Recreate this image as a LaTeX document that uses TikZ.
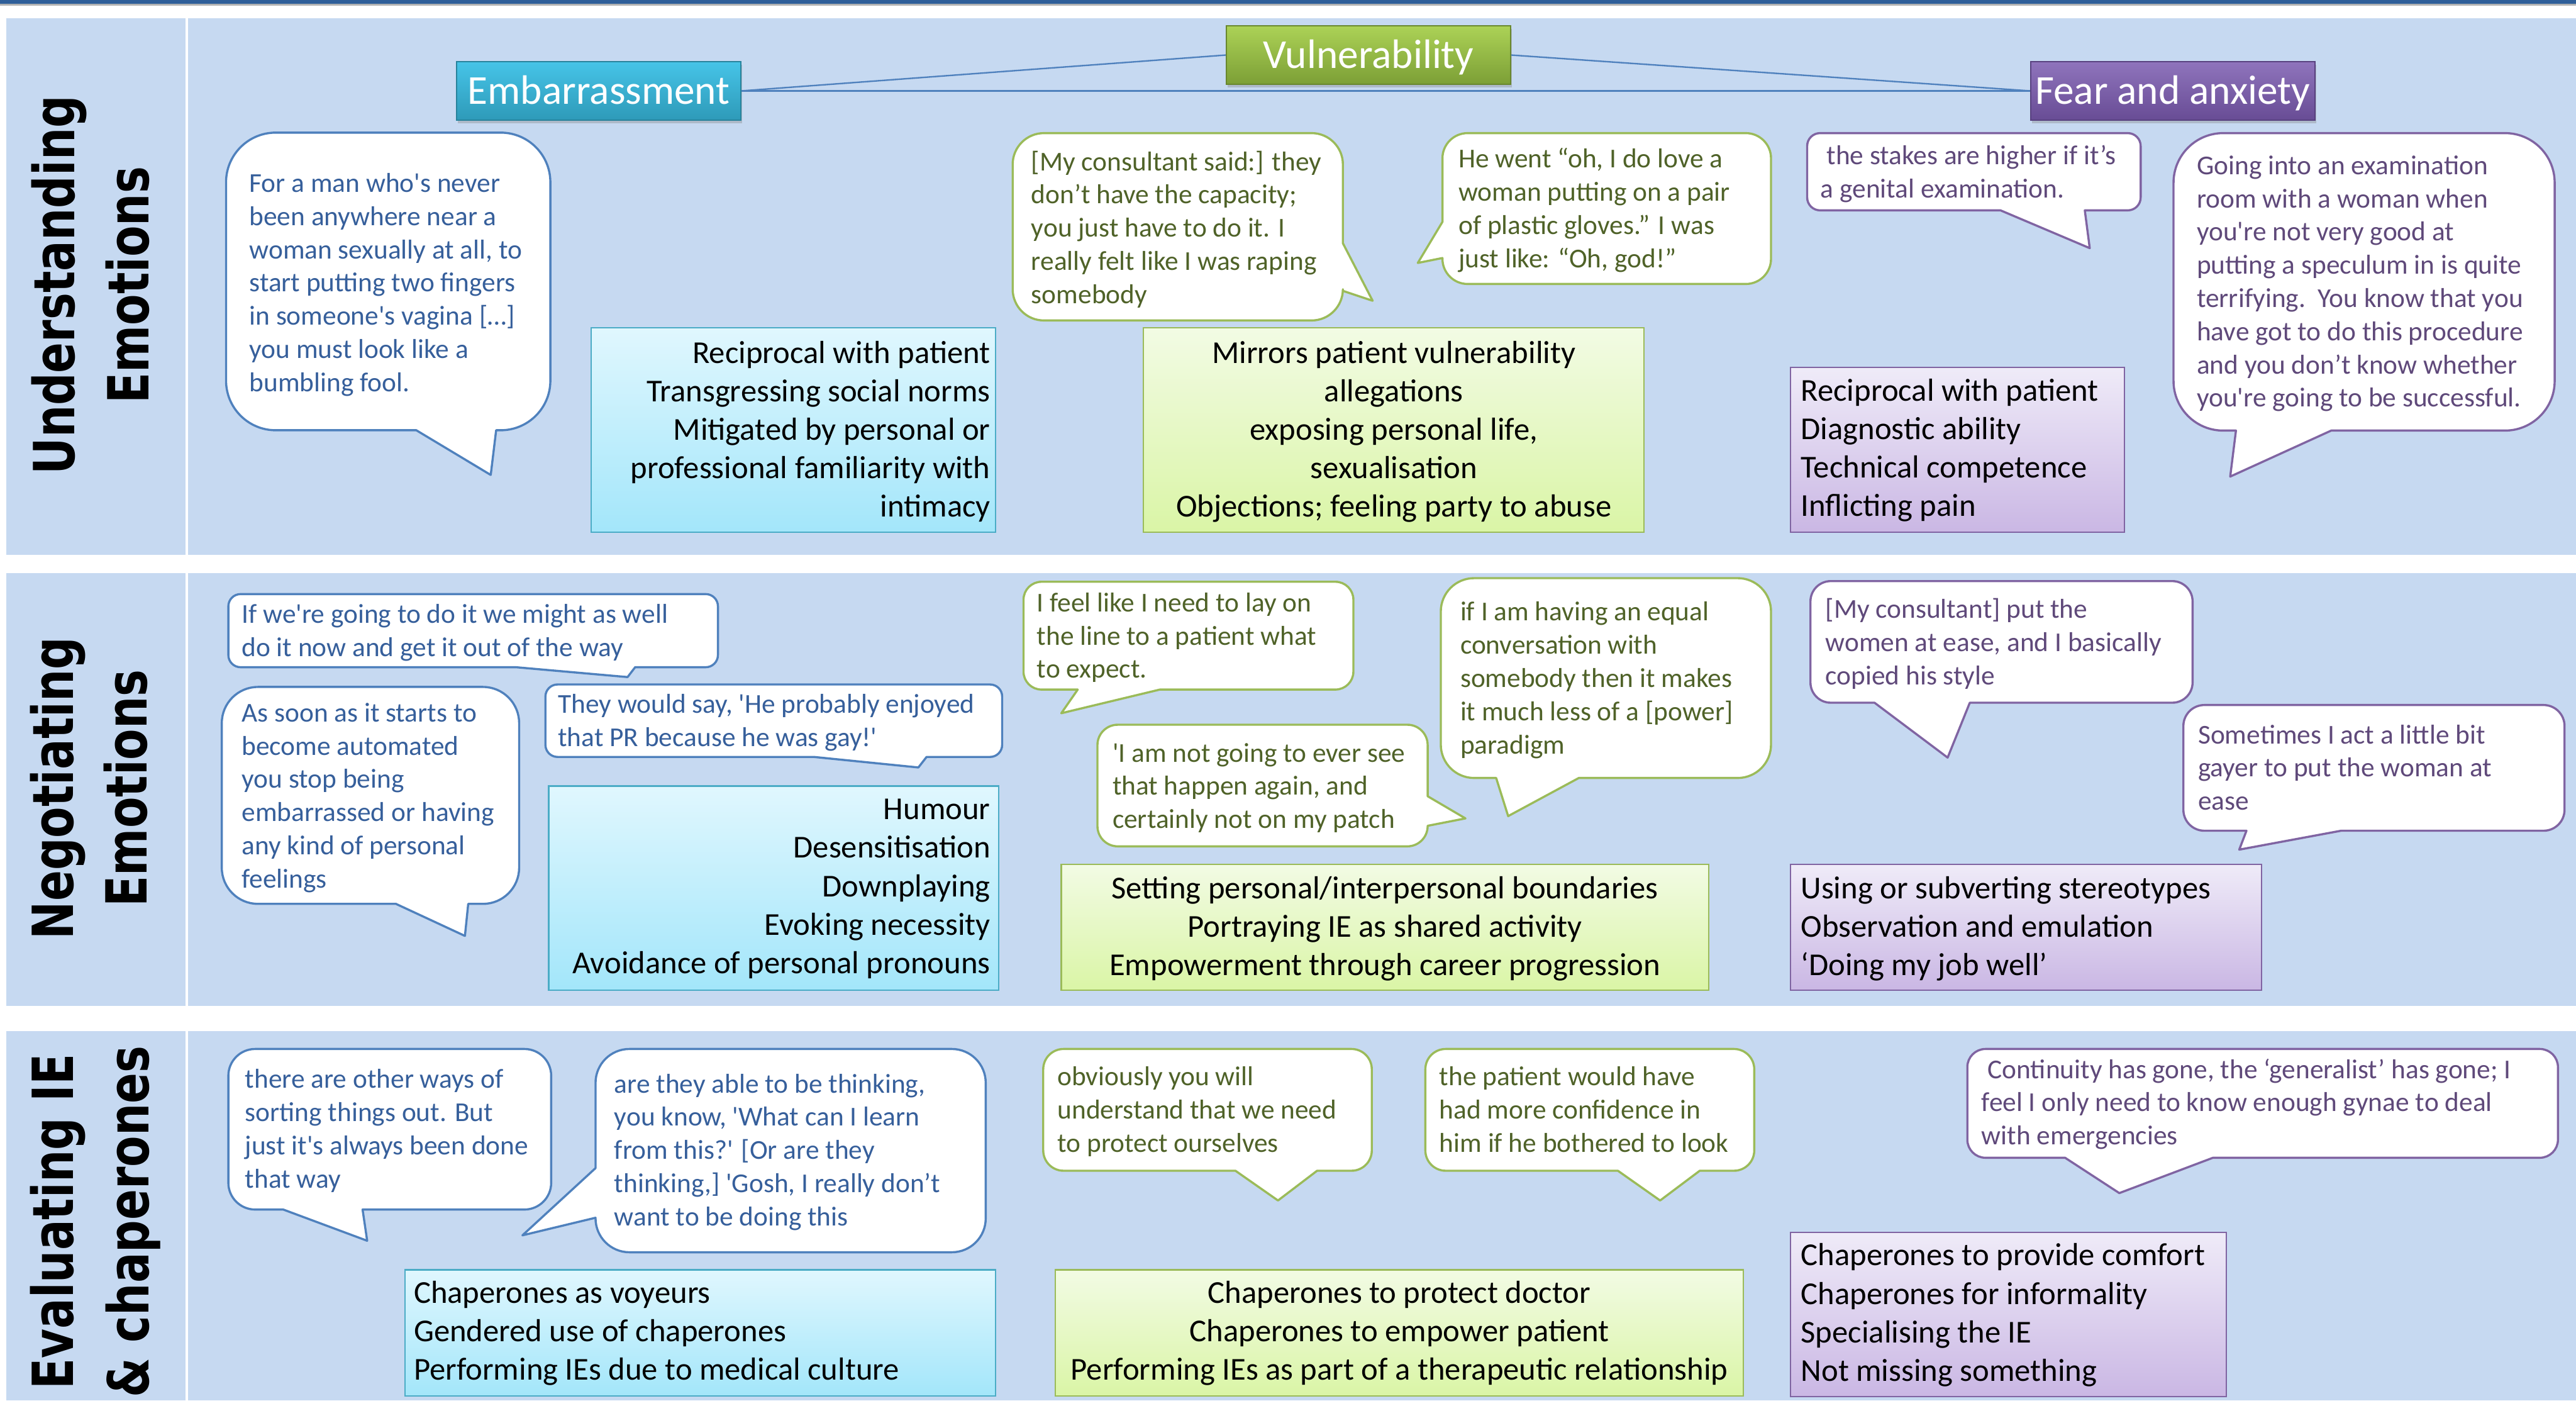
\documentclass[tikz,border=0pt]{standalone}
\usepackage{fontspec}
\usepackage{graphicx}
\newfontfamily\calfont{Carlito}
\newfontfamily\lblfont{DejaVu Sans}
\usetikzlibrary{shadows}
\definecolor{panel}{HTML}{C6D9F1}
\definecolor{topbar}{HTML}{2F5F99}
\definecolor{qbluetext}{HTML}{365F9B}
\definecolor{qblueline}{HTML}{4F81BD}
\definecolor{qgreentext}{HTML}{4F6228}
\definecolor{qgreenline}{HTML}{9BBB59}
\definecolor{qpurptext}{HTML}{5F497A}
\definecolor{qpurpline}{HTML}{8064A2}
\definecolor{bboxtop}{HTML}{E0F7FE}
\definecolor{bboxbot}{HTML}{A3E6FA}
\definecolor{bboxline}{HTML}{4BACC6}
\definecolor{gboxtop}{HTML}{F2FBE4}
\definecolor{gboxbot}{HTML}{DAF5A6}
\definecolor{gboxline}{HTML}{9BBB59}
\definecolor{pboxtop}{HTML}{EFEBF8}
\definecolor{pboxbot}{HTML}{CAB7E4}
\definecolor{pboxline}{HTML}{8064A2}
\definecolor{embtop}{HTML}{46C4E8}
\definecolor{embbot}{HTML}{2E9AB8}
\definecolor{vultop}{HTML}{ACD256}
\definecolor{vulbot}{HTML}{7C9F36}
\definecolor{feartop}{HTML}{8F74BC}
\definecolor{fearbot}{HTML}{684C95}
\definecolor{connline}{HTML}{4F81BD}
\tikzset{
  qb/.style={fill=white, line width=1.3pt, line join=round},
  qblue/.style={qb, draw=qblueline},
  qgreen/.style={qb, draw=qgreenline},
  qpurp/.style={qb, draw=qpurpline},
  qtxt/.style={inner sep=0pt, anchor=north west, align=left, font=\calfont\fontsize{16.6}{20.2}\selectfont},
  qbt/.style={qtxt, text=qbluetext},
  qgt/.style={qtxt, text=qgreentext},
  qpt/.style={qtxt, text=qpurptext},
  bbox/.style={draw=bboxline, line width=0.8pt, top color=bboxtop, bottom color=bboxbot},
  gbox/.style={draw=gboxline, line width=0.8pt, top color=gboxtop, bottom color=gboxbot},
  pbox/.style={draw=pboxline, line width=0.8pt, top color=pboxtop, bottom color=pboxbot},
  btxt/.style={inner sep=0pt, font=\calfont\fontsize{19.4}{23.4}\selectfont, text=black},
  hdr/.style={minimum width=173pt, minimum height=35.5pt, inner sep=0pt, text=white,
    text height=18pt, text depth=2pt, line width=0.8pt,
    font=\calfont\fontsize{25}{30}\selectfont,
    drop shadow={opacity=0.35, shadow xshift=0.8pt, shadow yshift=-1.8pt}},
  conn/.style={draw=connline, line width=0.9pt},
  lbl/.style={inner sep=0pt, rotate=90, anchor=base, text=black,
    font=\lblfont\bfseries\fontsize{34.5}{40}\selectfont},
}
\newcommand\qstr{\rule{0pt}{16.6pt}}
\newcommand\bstr{\rule{0pt}{19.4pt}}
% bubble with tail on bottom edge: style, x1,y1,x2,y2, a,b (base x, a<b), tip x, tip y
\newcommand\bubB[9]{%
  \pgfmathsetmacro\bubr{0.1667*min(#4-#2,#5-#3)}%
  \pgfmathsetmacro\bubk{0.448*\bubr}%
  \draw[#1] (#2+\bubr,#3) -- (#4-\bubr,#3) .. controls (#4-\bubk,#3) and (#4,#3+\bubk) .. (#4,#3+\bubr)
    -- (#4,#5-\bubr) .. controls (#4,#5-\bubk) and (#4-\bubk,#5) .. (#4-\bubr,#5)
    -- (#7,#5) -- (#8,#9) -- (#6,#5)
    -- (#2+\bubr,#5) .. controls (#2+\bubk,#5) and (#2,#5-\bubk) .. (#2,#5-\bubr)
    -- (#2,#3+\bubr) .. controls (#2,#3+\bubk) and (#2+\bubk,#3) .. (#2+\bubr,#3) -- cycle;}
% tail on right edge: a,b are base y (a<b)
\newcommand\bubR[9]{%
  \pgfmathsetmacro\bubr{0.1667*min(#4-#2,#5-#3)}%
  \pgfmathsetmacro\bubk{0.448*\bubr}%
  \draw[#1] (#2+\bubr,#3) -- (#4-\bubr,#3) .. controls (#4-\bubk,#3) and (#4,#3+\bubk) .. (#4,#3+\bubr)
    -- (#4,#6) -- (#8,#9) -- (#4,#7)
    -- (#4,#5-\bubr) .. controls (#4,#5-\bubk) and (#4-\bubk,#5) .. (#4-\bubr,#5)
    -- (#2+\bubr,#5) .. controls (#2+\bubk,#5) and (#2,#5-\bubk) .. (#2,#5-\bubr)
    -- (#2,#3+\bubr) .. controls (#2,#3+\bubk) and (#2+\bubk,#3) .. (#2+\bubr,#3) -- cycle;}
% tail on left edge: a,b are base y (a<b)
\newcommand\bubL[9]{%
  \pgfmathsetmacro\bubr{0.1667*min(#4-#2,#5-#3)}%
  \pgfmathsetmacro\bubk{0.448*\bubr}%
  \draw[#1] (#2+\bubr,#3) -- (#4-\bubr,#3) .. controls (#4-\bubk,#3) and (#4,#3+\bubk) .. (#4,#3+\bubr)
    -- (#4,#5-\bubr) .. controls (#4,#5-\bubk) and (#4-\bubk,#5) .. (#4-\bubr,#5)
    -- (#2+\bubr,#5) .. controls (#2+\bubk,#5) and (#2,#5-\bubk) .. (#2,#5-\bubr)
    -- (#2,#7) -- (#8,#9) -- (#2,#6)
    -- (#2,#3+\bubr) .. controls (#2,#3+\bubk) and (#2+\bubk,#3) .. (#2+\bubr,#3) -- cycle;}
\begin{document}
\begin{tikzpicture}[x=1pt,y=-1pt]
\useasboundingbox (0,0) rectangle (1568,852.3);
\clip (0,0) rectangle (1568,852.3);
\fill[white] (0,0) rectangle (1568,852.3);
% top bar
\fill[topbar] (0,0) rectangle (1568,2.3);
\fill[black!30] (0,2.3) rectangle (1568,3.3);
% row panels
\fill[panel] (4,11) rectangle (113,337.5);
\fill[panel] (114.3,11) rectangle (1568,337.5);
\fill[panel] (4,348.6) rectangle (113,612);
\fill[panel] (114.3,348.6) rectangle (1568,612);
\fill[panel] (4,627.6) rectangle (113,852.3);
\fill[panel] (114.3,627.6) rectangle (1568,852.3);

% row labels
\node[lbl] (lab1a) at (45.3,173.5) {\scalebox{0.8}[1]{Understanding}};
\node[lbl] (lab1b) at (90.5,173.5) {\scalebox{0.8}[1]{Emotions}};
\node[lbl] (lab2a) at (44.5,479.6) {\scalebox{0.8}[1]{Negotiating}};
\node[lbl] (lab2b) at (89.5,479.6) {\scalebox{0.8}[1]{Emotions}};
\node[lbl] (lab3a) at (44.5,743.5) {\scalebox{0.8}[1]{Evaluating IE}};
\node[lbl] (lab3b) at (90.5,743.5) {\scalebox{0.8}[1]{\& chaperones}};

% headers
\node[hdr, draw=embbot!85!black, top color=embtop, bottom color=embbot] (emb) at (364.5,55.3) {Embarrassment};
\node[hdr, draw=vulbot!85!black, top color=vultop, bottom color=vulbot] (vul) at (833,33.5) {Vulnerability};
\node[hdr, draw=fearbot!85!black, top color=feartop, bottom color=fearbot] (fear) at (1322.5,55.3) {Fear and anxiety};
\draw[conn] (emb.east) -- (vul.west);
\draw[conn] (vul.east) -- (fear.west);
\draw[conn] (emb.east) -- (fear.west);

% ---------- Row 1 ----------
\bubB{qblue}{137.6}{80.7}{335}{261.8}{253.4}{302}{298.7}{289}
\node[qbt] (q1) at (151.6,116.8-16.6) {\qstr For a man who's never\\been anywhere near a\\woman sexually at all, to\\start putting two fingers\\in someone's vagina […]\\you must look like a\\bumbling fool.};
\bubR{qgreen}{616.4}{81}{817.4}{195}{148}{177}{835.5}{183}
\node[qgt] (q2) at (627.6,103.6-16.6) {\qstr [My consultant said:] they\\don’t have the capacity;\\you just have to do it. I\\really felt like I was raping\\somebody};
\bubL{qgreen}{878}{81}{1078}{172.8}{135}{157}{863}{160}
\node[qgt] (q3) at (887.6,102-16.6) {\qstr He went “oh, I do love a\\woman putting on a pair\\of plastic gloves.” I was\\just like: “Oh, god!”};
\bubB{qpurp}{1100}{81}{1303}{128}{1217.7}{1269}{1272}{151}
\node[qpt] (q4) at (1108,100-16.6) {\qstr\hspace{3.7pt}the stakes are higher if it’s\\a genital examination.};
\bubB{qpurp}{1323}{81}{1555}{262}{1361}{1419}{1357.5}{290}
\node[qpt] (q5) at (1337,106-16.6) {\qstr Going into an examination\\room with a woman when\\you're not very good at\\putting a speculum in is quite\\terrifying.\ \ You know that you\\have got to do this procedure\\and you don’t know whether\\you're going to be successful.};

\path[bbox] (360,199.6) rectangle (606,324);
\node[btxt, align=right, anchor=north east] (s1) at (603,220.8-19.4) {\bstr Reciprocal with patient\\Transgressing social norms\\Mitigated by personal or\\professional familiarity with\\intimacy};
\path[gbox] (696,199.6) rectangle (1000.8,324);
\node[btxt, align=center, anchor=north] (s2) at (848.4,220.8-19.4) {\bstr Mirrors patient vulnerability\\allegations\\exposing personal life,\\sexualisation\\Objections; feeling party to abuse};
\path[pbox] (1089.8,223.6) rectangle (1293,324);
\node[btxt, align=left, anchor=north west] (s3) at (1096,243.8-19.4) {\bstr Reciprocal with patient\\Diagnostic ability\\Technical competence\\Inflicting pain};

% ---------- Row 2 ----------
\bubB{qblue}{139}{361.5}{437}{406}{314}{386.6}{382}{412}
\node[qbt] (q6) at (147,379-16.6) {\qstr If we're going to do it we might as well\\do it now and get it out of the way};
\bubB{qblue}{135}{418}{316}{550}{241}{285}{283}{569.5}
\node[qbt] (q7) at (147,439-16.6) {\qstr As soon as it starts to\\become automated\\you stop being\\embarrassed or having\\any kind of personal\\feelings};
\bubB{qblue}{332}{416.5}{610}{460.6}{495.4}{564}{559}{467}
\node[qbt] (q8) at (339.5,433.7-16.6) {\qstr They would say, 'He probably enjoyed\\that PR because he was gay!'};
\bubB{qgreen}{623}{354}{823.8}{419.6}{656}{706}{646}{434}
\node[qgt] (q9) at (631,372-16.6) {\qstr I feel like I need to lay on\\the line to a patient what\\to expect.};
\bubR{qgreen}{668}{441}{869}{515}{484.5}{502.5}{892}{498}
\node[qgt] (q10) at (677,463.4-16.6) {\qstr 'I am not going to ever see\\that happen again, and\\certainly not on my patch};
\bubB{qgreen}{877}{351.8}{1078}{473.4}{910.7}{961}{918}{496.6}
\node[qgt] (q11) at (888.7,377.6-16.6) {\qstr if I am having an equal\\conversation with\\somebody then it makes\\it much less of a [power]\\paradigm};
\bubB{qpurp}{1102}{353.6}{1334.6}{427.6}{1141}{1199}{1185.5}{461}
\node[qpt] (q12) at (1111,376-16.6) {\qstr [My consultant] put the\\women at ease, and I basically\\copied his style};
\bubB{qpurp}{1329}{429}{1561}{505.5}{1367.4}{1425}{1363}{517}
\node[qpt] (q13) at (1337.8,452.3-16.6) {\qstr Sometimes I act a little bit\\gayer to put the woman at\\ease};

\path[bbox] (334,478.3) rectangle (608,602.5);
\node[btxt, align=right, anchor=north east] (s4) at (603,498.5-19.4) {\bstr Humour\\Desensitisation\\Downplaying\\Evoking necessity\\Avoidance of personal pronouns};
\path[gbox] (646,526) rectangle (1040,602.5);
\node[btxt, align=center, anchor=north] (s5) at (843,546.5-19.4) {\bstr Setting personal/interpersonal boundaries\\Portraying IE as shared activity\\Empowerment through career progression};
\path[pbox] (1089.8,526) rectangle (1376.7,602.5);
\node[btxt, align=left, anchor=north west] (s6) at (1096,546.5-19.4) {\bstr Using or subverting stereotypes\\Observation and emulation\\‘Doing my job well’};

% ---------- Row 3 ----------
\bubB{qblue}{139}{638.3}{335.5}{736}{172.4}{220.7}{223.5}{755}
\node[qbt] (q14) at (149,662-16.6) {\qstr there are other ways of\\sorting things out. But\\just it's always been done\\that way};
\bubL{qblue}{362.5}{638.3}{600}{762}{710.8}{741}{318}{751.7}
\node[qbt] (q15) at (373.8,664.8-16.6) {\qstr are they able to be thinking,\\you know, 'What can I learn\\from this?' [Or are they\\thinking,] 'Gosh, I really don’t\\want to be doing this};
\bubB{qgreen}{635}{638.3}{835}{712.4}{752}{801.7}{777.9}{730.5}
\node[qgt] (q16) at (643.5,660.4-16.6) {\qstr obviously you will\\understand that we need\\to protect ourselves};
\bubB{qgreen}{867.6}{638.3}{1067.8}{712.4}{984.8}{1034.6}{1010.5}{730.5}
\node[qgt] (q17) at (876,660.4-16.6) {\qstr the patient would have\\had more confidence in\\him if he bothered to look};
\bubB{qpurp}{1197.5}{638.3}{1557}{704.5}{1257}{1347}{1290}{726}
\node[qpt] (q18) at (1206,656-16.6) {\qstr\hspace{3.7pt}Continuity has gone, the ‘generalist’ has gone; I\\feel I only need to know enough gynae to deal\\with emergencies};

\path[bbox] (246.5,772.7) rectangle (606,849.5);
\node[btxt, align=left, anchor=north west] (s7) at (251.7,792.8-19.4) {\bstr Chaperones as voyeurs\\Gendered use of chaperones\\Performing IEs due to medical culture};
\path[gbox] (642.5,772.7) rectangle (1061,849.5);
\node[btxt, align=center, anchor=north] (s8) at (851.8,792.8-19.4) {\bstr Chaperones to protect doctor\\Chaperones to empower patient\\Performing IEs as part of a therapeutic relationship};
\path[pbox] (1089.8,750) rectangle (1355,850);
\node[btxt, align=left, anchor=north west] (s9) at (1096,770-19.4) {\bstr Chaperones to provide comfort\\Chaperones for informality\\Specialising the IE\\Not missing something};
\end{tikzpicture}
\end{document}
